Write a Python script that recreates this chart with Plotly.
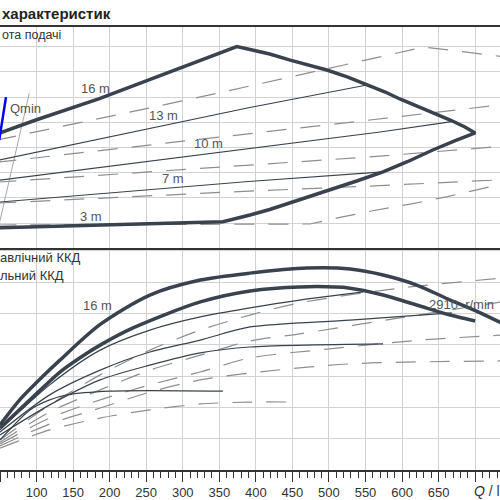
import plotly.graph_objects as go

# ---------------- upper panel: head H [m] vs flow Q ----------------
q_env_top = [45, 100, 185, 280, 374, 392, 419, 447, 474, 497, 525, 552, 577, 597, 631, 666, 686, 700]
h_env_top = [9.05, 10.2, 11.85, 13.9, 16.0, 15.78, 15.42, 14.93, 14.51, 14.15, 13.6, 12.96, 12.4, 11.85, 11.06, 10.18, 9.63, 9.15]
q_env_bot = [45, 355, 392, 419, 447, 474, 501, 538, 574, 608, 642, 672, 700]
h_env_bot = [1.62, 2.11, 2.64, 3.08, 3.60, 4.11, 4.63, 5.34, 6.06, 6.89, 7.80, 8.52, 9.15]

q_qmin = [49, 58.2]
h_qmin = [8.6, 12.0]

q_sys = [48, 90]
h_sys = [1.7, 12.3]

q_h13 = [45, 220, 390, 552]
h_h13 = [6.95, 9.05, 11.15, 12.96]
q_h10 = [45, 390, 570, 668]
h_h10 = [5.38, 7.88, 9.23, 10.05]
q_h7 = [45, 390, 574]
h_h7 = [3.65, 5.30, 6.06]

# dashed (second speed) curves
q_dA = [45, 260, 392, 500, 630, 686, 760]
h_dA = [8.58, 11.2, 12.88, 14.3, 15.97, 15.58, 15.05]
q_dB = [45, 405, 556, 760]
h_dB = [6.82, 9.15, 10.18, 11.55]
q_dC = [45, 378, 556, 760]
h_dC = [5.24, 6.57, 7.25, 8.2]
q_dD = [45, 365, 556, 760]
h_dD = [3.58, 4.47, 4.94, 5.5]
q_dE = [45, 474, 515, 560, 615, 662, 711, 760]
h_dE = [1.85, 1.93, 2.45, 2.98, 3.55, 4.1, 4.75, 5.45]

# ---------------- lower panel: efficiency [%] vs Q ----------------
q_hyd16 = [50, 77, 109, 132, 187, 255, 324, 392, 470, 529, 574, 620, 666, 707, 740]
e_hyd16 = [14.4, 22.4, 30.0, 35.1, 46.5, 55.9, 60.7, 62.9, 64.5, 64.2, 62.3, 59.1, 54.3, 50.2, 46.5]
q_tot16 = [50, 91, 132, 159, 187, 232, 324, 392, 460, 529, 574, 620, 666, 700]
e_tot16 = [13.4, 22.4, 31.3, 35.8, 39.9, 45.4, 53.7, 57.2, 58.5, 58.1, 55.9, 52.7, 49.5, 47.6]
q_e13 = [50, 118, 187, 255, 324, 392, 460, 547]
e_e13 = [12.8, 27.2, 38.3, 44.7, 48.9, 51.8, 54.3, 56.9]
q_e10 = [50, 118, 187, 255, 324, 392, 529, 668]
e_e10 = [12.1, 24.0, 31.9, 37.7, 41.5, 45.7, 47.9, 50.2]
q_e7 = [50, 118, 187, 255, 324, 392, 574]
e_e7 = [11.2, 20.8, 28.8, 33.5, 37.4, 39.3, 40.3]
q_e3 = [50, 91, 118, 142, 200, 355]
e_e3 = [9.6, 19.2, 22.4, 24.0, 25.2, 25.2]

q_eA = [50, 118, 187, 255, 324, 392, 460, 597, 760]
e_eA = [9.6, 20.8, 30.4, 38.3, 44.7, 49.5, 53.4, 58.1, 61.8]
q_eB = [50, 118, 187, 255, 324, 392, 460, 597, 760]
e_eB = [8.9, 18.5, 25.6, 31.9, 36.7, 41.2, 43.5, 48.6, 54.6]
q_eC = [50, 118, 187, 255, 324, 392, 501, 625, 760]
e_eC = [8.3, 16.6, 22.4, 27.2, 31.3, 35.8, 38.7, 41.5, 43.4]
q_eD = [50, 118, 187, 255, 324, 392, 529, 760]
e_eD = [7.7, 14.7, 19.8, 24.9, 28.8, 31.0, 33.9, 34.9]
q_eE = [50, 118, 187, 255, 324, 392, 454]
e_eE = [7.0, 12.8, 16.6, 19.2, 21.1, 21.7, 21.7]

x_ticks = [50, 100, 150, 200, 250, 300, 350, 400, 450, 500, 550, 600, 650, 700]
x_labels = ["50", "100", "150", "200", "250", "300", "350", "400", "450", "500", "550", "600", "650", ""]

DARK = "#3a434d"
DASH = "#8e8e8e"
TXT = "#555555"
FONT = "Arial, Liberation Sans, sans-serif"
DASHPAT = "20px,14px"

fig = go.Figure()

def add(x, y, axis, color, width, dash="solid", shape="linear"):
    fig.add_trace(go.Scatter(
        x=x, y=y, mode="lines", xaxis="x2" if axis == "up" else "x",
        yaxis="y2" if axis == "up" else "y",
        line=dict(color=color, width=width, dash=dash, shape=shape, smoothing=0.8),
        hoverinfo="skip", showlegend=False))

# upper dashed
for qx, hy in [(q_dA, h_dA), (q_dB, h_dB), (q_dC, h_dC), (q_dD, h_dD), (q_dE, h_dE)]:
    add(qx, hy, "up", DASH, 1.2, DASHPAT)
add(q_sys, h_sys, "up", "#a8a8a8", 1)
for qx, hy in [(q_h13, h_h13), (q_h10, h_h10), (q_h7, h_h7)]:
    add(qx, hy, "up", DARK, 1.2)
add(q_env_top + q_env_bot[::-1], h_env_top + h_env_bot[::-1], "up", DARK, 3.5)
add(q_qmin, h_qmin, "up", "#0000ff", 2.5)

# lower dashed
for qx, ey in [(q_eA, e_eA), (q_eB, e_eB), (q_eC, e_eC), (q_eD, e_eD), (q_eE, e_eE)]:
    add(qx, ey, "low", DASH, 1.2, DASHPAT, "spline")
for qx, ey in [(q_e13, e_e13), (q_e10, e_e10), (q_e7, e_e7), (q_e3, e_e3)]:
    add(qx, ey, "low", DARK, 1.2, "solid", "spline")
add(q_tot16, e_tot16, "low", DARK, 3.5, "solid", "spline")
add(q_hyd16, e_hyd16, "low", DARK, 3.5, "solid", "spline")

ann = []
def lab(text, x, y, axis, size=13, color=TXT, xanchor="center"):
    ann.append(dict(text=text, x=x, y=y, xref="x2" if axis == "up" else "x",
                    yref="y2" if axis == "up" else "y", showarrow=False,
                    xanchor=xanchor, yanchor="middle",
                    font=dict(family=FONT, size=size, color=color)))

lab("16 m", 180, 12.7, "up")
lab("13 m", 273, 10.5, "up")
lab("10 m", 335, 8.3, "up")
lab("7 m", 286, 5.5, "up")
lab("3 m", 174, 2.56, "up")
lab("Qmin", 61, 11.1, "up", xanchor="left")
lab("16 m", 184, 52.7, "low")
lab("2910  r/min", 682, 53.0, "low")

def ptext(text, x, y, xanchor, size=13, bold=False, color="#333333"):
    ann.append(dict(text=f"<b>{text}</b>" if bold else text, x=x, y=y, xref="paper", yref="paper",
                    showarrow=False, xanchor=xanchor, yanchor="middle",
                    font=dict(family=FONT, size=size, color=color)))

# texts as visible in the (cropped) reference
ptext("характеристик", 0.0, (470 - 14) / 443, "left", size=15, bold=True, color="#222222")
ptext("ота подачі", 0.0, (470 - 35) / 443, "left", size=12.5)
ptext("авлічний ККД", 83 / 500, (470 - 257) / 443, "right", size=13)
ptext("льний ККД", 66 / 500, (470 - 275) / 443, "right", size=13)
ptext("<i>Q</i> / l", 472 / 500, (470 - 491) / 443, "left", size=14)

split = (470 - 248.3) / 443
grid = "#d2d2d2"
xcommon = dict(range=[50, 734], tickmode="array", tickvals=x_ticks, showgrid=True,
               gridcolor=grid, gridwidth=1, zeroline=False)

fig.update_layout(
    width=500, height=500,
    margin=dict(l=0, r=0, t=27, b=30),
    paper_bgcolor="white", plot_bgcolor="white",
    font=dict(family=FONT, color="#333333"),
    annotations=ann,
    xaxis=dict(**xcommon, ticktext=x_labels, anchor="y",
               showline=True, linecolor="#333333", linewidth=1.5,
               ticks="outside", ticklen=10, tickwidth=1.2, tickcolor="#333333",
               tickfont=dict(family=FONT, size=13, color="#333333"),
               minor=dict(dtick=10, tick0=0, ticks="outside", ticklen=6, tickwidth=1,
                          tickcolor="#333333", showgrid=False)),
    xaxis2=dict(**xcommon, ticktext=x_labels, anchor="y2", showticklabels=False,
                showline=True, mirror=True, linecolor="#333333", linewidth=1.5, ticks=""),
    yaxis=dict(domain=[0, split], range=[0, 70.83], dtick=10, tick0=0, showgrid=True,
               gridcolor=grid, zeroline=False, showticklabels=False, ticks=""),
    yaxis2=dict(domain=[split, 1], range=[0, 17.56], dtick=2, tick0=0, showgrid=True,
                gridcolor=grid, zeroline=False, showticklabels=False, ticks=""),
)

fig.write_html("out.html")
